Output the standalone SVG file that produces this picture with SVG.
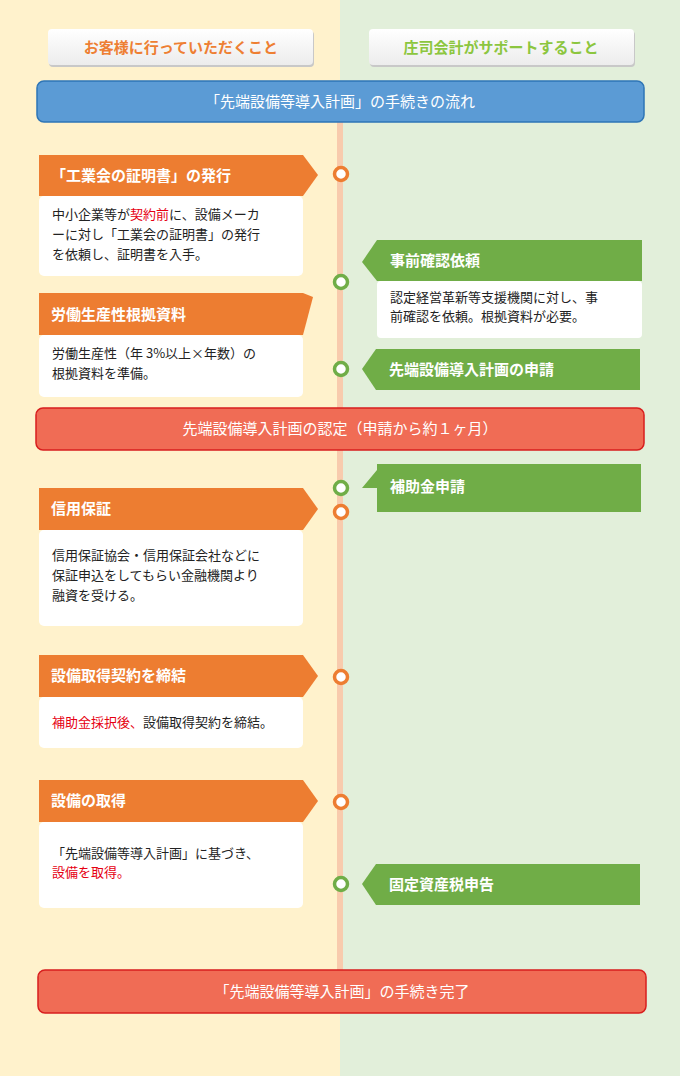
<svg xmlns="http://www.w3.org/2000/svg" width="680" height="1076" viewBox="0 0 680 1076">
<style>
text{font-family:"Noto Sans CJK JP",sans-serif}
.ht{fill:#fff;font-size:15px;font-weight:bold}
.bt{fill:#222;font-size:13px}
.red{fill:#e60012}
.bar{fill:#fff;font-size:15px}
.o{fill:#ed7d31}.g{fill:#70ad47}.w{fill:#fff}
.co{fill:#fff;stroke:#ed7d31;stroke-width:3.5}
.cg{fill:#fff;stroke:#70ad47;stroke-width:3.5}
</style>
<defs>
<linearGradient id="btn" x1="0" y1="0" x2="0" y2="1"><stop offset="0" stop-color="#ffffff"/><stop offset="1" stop-color="#ececec"/></linearGradient>
</defs>
<rect x="0" y="0" width="340" height="1076" fill="#fff2cc"/>
<rect x="340" y="0" width="340" height="1076" fill="#e2efda"/>
<g id="timeline"><rect x="337" y="122" width="6" height="850" fill="#f8cbad"/></g>
<g id="hdr-left"><rect x="49" y="31" width="265" height="36" rx="4" fill="#c8c8c8"/><rect x="48" y="29" width="265" height="36" rx="4" fill="url(#btn)"/><text x="181" y="53" text-anchor="middle" font-size="15" font-weight="bold" fill="#ee7f33">お客様に行っていただくこと</text></g>
<g id="hdr-right"><rect x="370" y="31" width="265" height="36" rx="4" fill="#c8c8c8"/><rect x="369" y="29" width="265" height="36" rx="4" fill="url(#btn)"/><text x="501" y="53" text-anchor="middle" font-size="15" font-weight="bold" fill="#8cc63f">庄司会計がサポートすること</text></g>
<g id="flow-title"><rect x="37" y="81" width="607" height="41" rx="7" fill="#5b9bd5" stroke="#2e75b6" stroke-width="1.5"/><text x="340" y="107" text-anchor="middle" class="bar">「先端設備等導入計画」の手続きの流れ</text></g>
<g id="connectors">
<circle cx="341" cy="174" r="6.5" class="co"/>
<circle cx="341" cy="282" r="6.5" class="cg"/>
<circle cx="341" cy="369" r="6.5" class="cg"/>
<circle cx="341" cy="488" r="6.5" class="cg"/>
<circle cx="341" cy="512" r="6.5" class="co"/>
<circle cx="341" cy="677" r="6.5" class="co"/>
<circle cx="341" cy="802" r="6.5" class="co"/>
<circle cx="341" cy="884" r="6.5" class="cg"/>
</g>
<g id="n1"><rect x="39" y="196" width="264" height="80" rx="5" class="w"/><path d="M39 155H303L318 175L303 196H39Z" class="o"/><text x="51" y="181" class="ht">「工業会の証明書」の発行</text>
<text x="52" y="219" class="bt">中小企業等が<tspan class="red">契約前</tspan>に、設備メーカ</text><text x="52" y="239" class="bt">ーに対し「工業会の証明書」の発行</text><text x="52" y="259" class="bt">を依頼し、証明書を入手。</text></g>
<g id="n2"><rect x="39" y="335" width="264" height="62" rx="5" class="w"/><path d="M39 293H303L313 297L303 335H39Z" class="o"/><text x="51" y="320" class="ht">労働生産性根拠資料</text>
<text x="52" y="358" class="bt">労働生産性（年 3%以上×年数）の</text><text x="52" y="378" class="bt">根拠資料を準備。</text></g>
<g id="g1"><rect x="377" y="281" width="265" height="57" rx="4" class="w"/><path d="M377 240H642V281H377L362 262Z" class="g"/><text x="390" y="266" class="ht">事前確認依頼</text>
<text x="390" y="302" class="bt">認定経営革新等支援機関に対し、事</text><text x="390" y="321" class="bt">前確認を依頼。根拠資料が必要。</text></g>
<g id="g2"><path d="M376 349H640V390H376L362 369Z" class="g"/><text x="389" y="375" class="ht">先端設備導入計画の申請</text></g>
<g id="nintei"><rect x="36" y="408" width="608" height="42" rx="7" fill="#f06c55" stroke="#d81e1e" stroke-width="1.5"/><text x="340" y="434" text-anchor="middle" class="bar">先端設備導入計画の認定（申請から約１ヶ月）</text></g>
<g id="g3"><path d="M377 464H641V512H377V488L362 488L377 470Z" class="g"/><text x="390" y="492" class="ht">補助金申請</text></g>
<g id="n3"><rect x="39" y="530" width="264" height="96" rx="5" class="w"/><path d="M39 488H303L318 509L303 530H39Z" class="o"/><text x="51" y="514" class="ht">信用保証</text>
<text x="52" y="560" class="bt">信用保証協会・信用保証会社などに</text><text x="52" y="580" class="bt">保証申込をしてもらい金融機関より</text><text x="52" y="600" class="bt">融資を受ける。</text></g>
<g id="n4"><rect x="39" y="697" width="264" height="51" rx="5" class="w"/><path d="M39 655H303L318 676L303 697H39Z" class="o"/><text x="51" y="681" class="ht">設備取得契約を締結</text>
<text x="52" y="727" class="bt"><tspan class="red">補助金採択後、</tspan>設備取得契約を締結。</text></g>
<g id="n5"><rect x="39" y="822" width="264" height="86" rx="5" class="w"/><path d="M39 780H303L318 801L303 822H39Z" class="o"/><text x="51" y="806" class="ht">設備の取得</text>
<text x="52" y="858" class="bt">「先端設備等導入計画」に基づき、</text><text x="52" y="877" class="bt red">設備を取得。</text></g>
<g id="g4"><path d="M376 864H640V905H376L362 884Z" class="g"/><text x="389" y="890" class="ht">固定資産税申告</text></g>
<g id="done"><rect x="38" y="970" width="608" height="43" rx="7" fill="#f06c55" stroke="#d81e1e" stroke-width="1.5"/><text x="342" y="997" text-anchor="middle" class="bar">「先端設備等導入計画」の手続き完了</text></g>
</svg>
